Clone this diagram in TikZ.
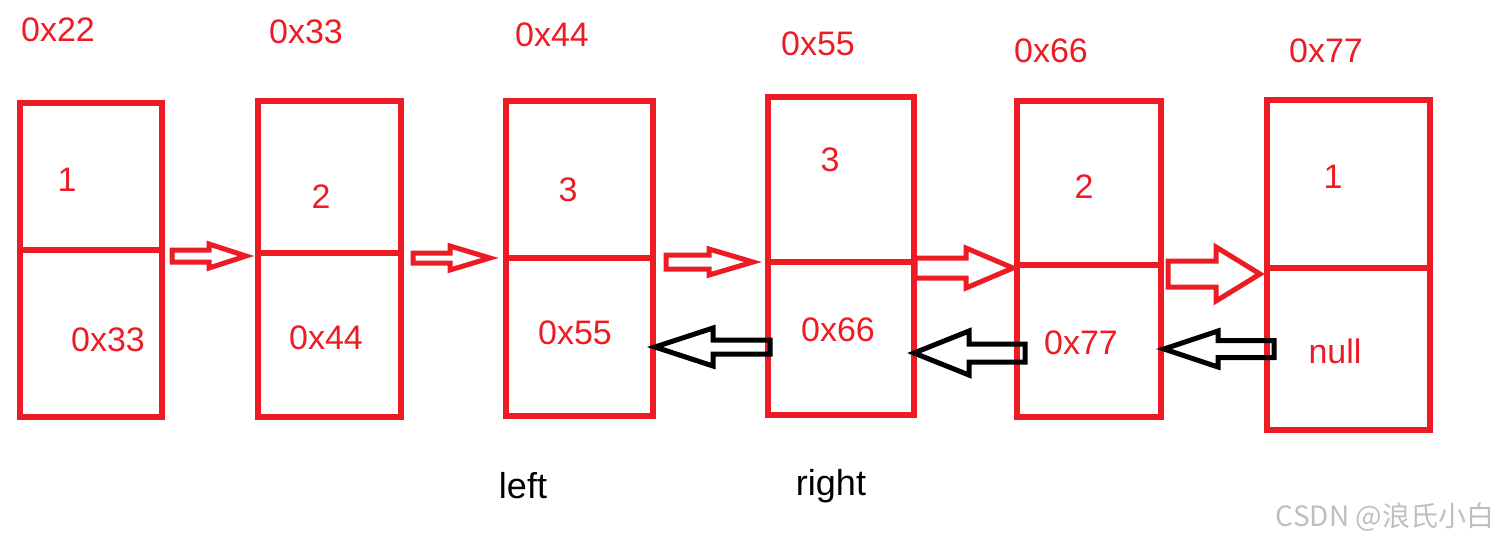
\documentclass[tikz,border=0pt]{standalone}
\usepackage{fontspec}
\setmainfont{Liberation Sans}
\newfontfamily\cjk{Noto Sans CJK SC}
\usepackage{tikz}
\definecolor{paintred}{RGB}{237,28,36}

% hollow block arrow: [style] from to half-shaft half-head head-offset
\newcommand{\hollowarrow}[6][]{%
  \draw[#1] ([shift={(0,#4)}]#2) -- ([shift={(#6,#4)}]#3) -- ([shift={(#6,#5)}]#3)
    -- (#3) -- ([shift={(#6,-#5)}]#3) -- ([shift={(#6,-#4)}]#3)
    -- ([shift={(0,-#4)}]#2) -- cycle;}

\begin{document}
\begin{tikzpicture}[
  x=0.5pt, y=-0.5pt,
  cell/.style={draw=paintred, line width=3pt, inner sep=0pt, outer sep=0pt},
  lbl/.style={text=paintred, font=\fontsize{17}{20}\selectfont},
  tag/.style={text=black, font=\fontsize{18}{21}\selectfont},
  redarr/.style={draw=paintred, line width=2.5pt, line join=miter},
  blackarr/.style={draw=black, line width=2.5pt, line join=miter}
]
\useasboundingbox (0,0) rectangle (1506,543);

% list nodes
\foreach \i/\l/\r/\t/\m/\b in {1/20/162/103/250/417, 2/258/401/101/253/417,
    3/506/653/101/258/416, 4/768/914/97/262/415, 5/1017/1161/101/265/417,
    6/1267/1430/100/268/430}{
  \node[cell, minimum width={(\r-\l)*0.5pt}, minimum height={(\m-\t)*0.5pt}]
    (t\i) at ({(\l+\r)/2},{(\t+\m)/2}) {};
  \node[cell, minimum width={(\r-\l)*0.5pt}, minimum height={(\b-\m)*0.5pt}]
    (b\i) at ({(\l+\r)/2},{(\m+\b)/2}) {};
}

% addresses
\node[lbl] (a1) at (58,30) {0x22};
\node[lbl] (a2) at (306,32) {0x33};
\node[lbl] (a3) at (552,35) {0x44};
\node[lbl] (a4) at (818,44) {0x55};
\node[lbl] (a5) at (1051,51) {0x66};
\node[lbl] (a6) at (1326,51) {0x77};

% values
\node[lbl] (v1) at (67,180) {1};
\node[lbl] (v2) at (321,197) {2};
\node[lbl] (v3) at (568,190) {3};
\node[lbl] (v4) at (830,160) {3};
\node[lbl] (v5) at (1084,187) {2};
\node[lbl] (v6) at (1333,177) {1};

% next pointers
\node[lbl] (p1) at (108,340) {0x33};
\node[lbl] (p2) at (326,338) {0x44};
\node[lbl] (p3) at (575,333) {0x55};
\node[lbl] (p4) at (838,330) {0x66};
\node[lbl] (p5) at (1081,343) {0x77};
\node[lbl] (p6) at (1335,351) {null};

\node[tag] (left) at (523,486) {left};
\node[tag] (right) at (831,486) {right};

% forward arrows
\coordinate (f1s) at ([shift={(10,6)}]t1.south east);
\coordinate (f1e) at ([shift={(-12,3)}]t2.south west);
\coordinate (f2s) at ([shift={(12,5)}]t2.south east);
\coordinate (f2e) at ([shift={(-16,0)}]t3.south west);
\coordinate (f3s) at ([shift={(13,4)}]t3.south east);
\coordinate (f3e) at ([shift={(-15,0)}]t4.south west);
\coordinate (f4s) at ([shift={(1,6)}]t4.south east);
\coordinate (f4e) at ([shift={(-4,3)}]t5.south west);
\coordinate (f5s) at ([shift={(7,9)}]t5.south east);
\coordinate (f5e) at ([shift={(-7,6)}]t6.south west);
\hollowarrow[redarr]{f1s}{f1e}{6}{12}{-37}
\hollowarrow[redarr]{f2s}{f2e}{5}{12}{-40}
\hollowarrow[redarr]{f3s}{f3e}{7}{13}{-44}
\hollowarrow[redarr]{f4s}{f4e}{10}{20}{-47}
\hollowarrow[redarr]{f5s}{f5e}{13}{27}{-44}

% backward arrows
\coordinate (g1s) at ([shift={(2,8.5)}]b4.west);
\coordinate (g1e) at ([shift={(2,10)}]b3.east);
\coordinate (g2s) at ([shift={(8,12)}]b5.west);
\coordinate (g2e) at ([shift={(0,14.5)}]b4.east);
\coordinate (g3s) at ([shift={(7,0)}]b6.west);
\coordinate (g3e) at ([shift={(3,8)}]b5.east);
\hollowarrow[blackarr]{g1s}{g1e}{7}{19}{58}
\hollowarrow[blackarr]{g2s}{g2e}{9}{22}{55}
\hollowarrow[blackarr]{g3s}{g3e}{8.5}{18}{54}

\node[text=black!25, font=\cjk\fontsize{14}{16}\selectfont] (wm) at (1385,517) {CSDN @浪氏小白};
\end{tikzpicture}
\end{document}
